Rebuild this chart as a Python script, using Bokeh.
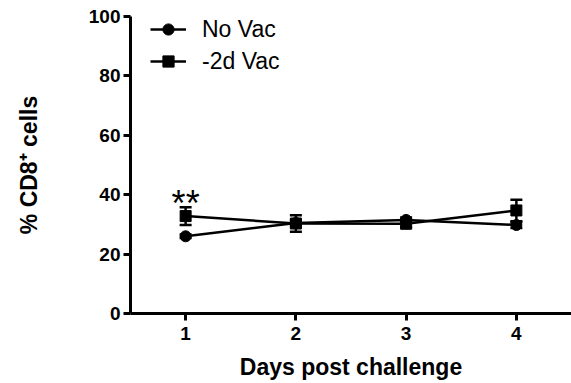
from bokeh.plotting import figure
from bokeh.models import Range1d, FixedTicker, Legend, LegendItem, Whisker, ColumnDataSource
from bokeh.core.properties import value
from bokeh.embed import file_html
from bokeh.resources import INLINE

days = [1, 2, 3, 4]
novac_mean = [26.0, 30.5, 31.5, 29.8]
novac_err = [0.6, 1.0, 0.8, 1.0]
vac_mean = [32.8, 30.3, 30.2, 34.7]
vac_err = [3.0, 2.8, 1.2, 3.6]
y_ticks = [0, 20, 40, 60, 80, 100]
x_ticks = [1, 2, 3, 4]

FONT = "Liberation Sans"

p = figure(width=571, height=383, output_backend="svg", toolbar_location=None,
           x_range=Range1d(0.5, 4.5), y_range=Range1d(0, 100),
           min_border_left=130, min_border_right=0, min_border_top=16, min_border_bottom=70)
p.frame_width = 441
p.frame_height = 297
p.outline_line_color = None
p.grid.grid_line_color = None
p.background_fill_color = None
p.border_fill_color = "white"

for ax in (p.xaxis[0], p.yaxis[0]):
    ax.axis_line_width = 3
    ax.axis_line_color = "black"
    ax.major_tick_line_width = 3
    ax.major_tick_line_color = "black"
    ax.major_tick_in = 0
    ax.major_tick_out = 7
    ax.minor_tick_line_color = None
    ax.major_label_text_font = FONT
    ax.major_label_text_font_style = "bold"
    ax.major_label_text_font_size = "19px"
    ax.major_label_text_color = "black"
    ax.axis_label_text_font = FONT
    ax.axis_label_text_font_style = "bold"
    ax.axis_label_text_font_size = "23px"
    ax.axis_label_text_color = "black"

p.xaxis.ticker = FixedTicker(ticks=x_ticks)
p.yaxis.ticker = FixedTicker(ticks=y_ticks)
p.xaxis.axis_label = "Days post challenge"
p.yaxis.axis_label = "% CD8\u207a cells"
p.yaxis.major_label_standoff = 3
p.xaxis.major_label_standoff = 6
p.yaxis.axis_label_standoff = 44
p.xaxis.axis_label_standoff = 11

src_n = ColumnDataSource(dict(x=days, y=novac_mean,
                              lo=[m - e for m, e in zip(novac_mean, novac_err)],
                              hi=[m + e for m, e in zip(novac_mean, novac_err)]))
src_v = ColumnDataSource(dict(x=days, y=vac_mean,
                              lo=[m - e for m, e in zip(vac_mean, vac_err)],
                              hi=[m + e for m, e in zip(vac_mean, vac_err)]))

for src in (src_n, src_v):
    w = Whisker(source=src, base="x", lower="lo", upper="hi", line_width=2.5, line_color="black")
    w.upper_head.size = 12
    w.lower_head.size = 12
    w.upper_head.line_width = 2.5
    w.lower_head.line_width = 2.5
    p.add_layout(w)

ln = p.line("x", "y", source=src_n, line_width=2.5, color="black")
sn = p.scatter("x", "y", source=src_n, marker="circle", size=11, color="black")
lv = p.line("x", "y", source=src_v, line_width=2.5, color="black")
sv = p.scatter("x", "y", source=src_v, marker="square", size=11, color="black")

p.text(x=[1], y=[37.0], text=["**"], text_font=value(FONT), text_font_size="36px",
       text_align="center", text_baseline="alphabetic", text_color="black")

legend = Legend(items=[LegendItem(label="No Vac", renderers=[ln, sn]),
                       LegendItem(label="-2d Vac", renderers=[lv, sv])],
                location=(20, 238), padding=0, margin=0, spacing=4,
                glyph_width=36, glyph_height=28, label_height=28, label_standoff=16,
                label_text_font=FONT, label_text_font_size="23px", label_text_color="black",
                border_line_color=None, background_fill_alpha=0)
p.add_layout(legend)

open("out.html", "w").write(file_html(p, INLINE))
